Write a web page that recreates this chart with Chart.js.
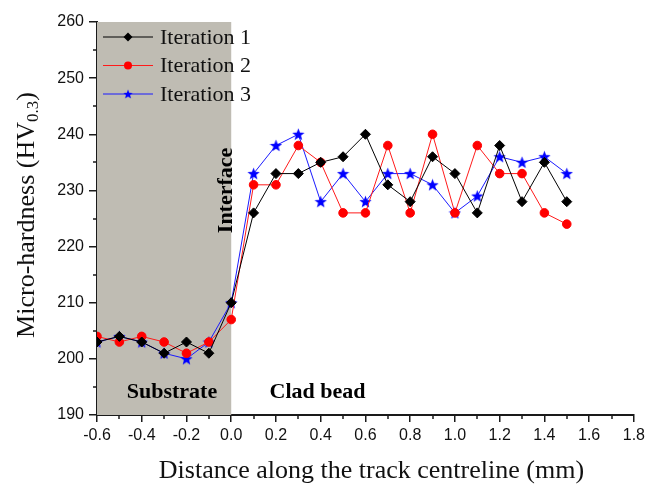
<!DOCTYPE html>
<html>
<head>
<meta charset="utf-8">
<script src="https://cdn.jsdelivr.net/npm/chart.js@4"></script>
<style>
  html, body { margin: 0; padding: 0; background: #fff; }
  #chart { display: block; }
</style>
</head>
<body>
<canvas id="chart" width="649" height="486"></canvas>
<script>
// distances (mm) along the track centreline
const distances = [-0.6, -0.5, -0.4, -0.3, -0.2, -0.1, 0.0, 0.1, 0.2, 0.3, 0.4, 0.5, 0.6, 0.7, 0.8, 0.9, 1.0, 1.1, 1.2, 1.3, 1.4, 1.5];

const iteration1 = [203, 204, 203, 201, 203, 201, 210, 226, 233, 233, 235, 236, 240, 231, 228, 236, 233, 226, 238, 228, 235, 228];
const iteration2 = [204, 203, 204, 203, 201, 203, 207, 231, 231, 238, 235, 226, 226, 238, 226, 240, 226, 238, 233, 233, 226, 224];
const iteration3 = [203, 204, 203, 201, 200, 203, 210, 233, 238, 240, 228, 233, 228, 233, 233, 231, 226, 229, 236, 235, 236, 233];

const seriesNames = ["Iteration 1", "Iteration 2", "Iteration 3"];
const substrateRange = [-0.6, 0.0];
const xTicks = [-0.6, -0.4, -0.2, 0.0, 0.2, 0.4, 0.6, 0.8, 1.0, 1.2, 1.4, 1.6, 1.8];
const yTicks = [190, 200, 210, 220, 230, 240, 250, 260];

const shadeColor = "rgb(191,188,179)";
const axisColor = "#1a1a1a";
const serif = "'Liberation Serif', 'Times New Roman', serif";
const sans = "'Liberation Sans', Arial, sans-serif";

// filled five-point star for iteration 3
function makeStar(size, color) {
  const c = document.createElement("canvas");
  c.width = size;
  c.height = size;
  const g = c.getContext("2d");
  const cx = size / 2, cy = size / 2 + 0.5;
  const outer = size / 2, inner = outer * 0.42;
  g.beginPath();
  for (let i = 0; i < 10; i++) {
    const r = i % 2 === 0 ? outer : inner;
    const a = -Math.PI / 2 + i * Math.PI / 5;
    const px = cx + r * Math.cos(a), py = cy + r * Math.sin(a);
    if (i === 0) g.moveTo(px, py); else g.lineTo(px, py);
  }
  g.closePath();
  g.fillStyle = color;
  g.fill();
  return c;
}
const starImg = makeStar(13, "#0000ff");

function toPoints(values) {
  return values.map((v, i) => ({ x: distances[i], y: v }));
}

const shadePlugin = {
  id: "shade",
  beforeDatasetsDraw(chart) {
    const { ctx, chartArea, scales } = chart;
    const x0 = scales.x.getPixelForValue(substrateRange[0]);
    const x1 = scales.x.getPixelForValue(substrateRange[1]);
    ctx.save();
    ctx.fillStyle = shadeColor;
    ctx.fillRect(x0, chartArea.top, x1 - x0, chartArea.bottom - chartArea.top);
    ctx.restore();
  }
};

const decorPlugin = {
  id: "decor",
  afterDraw(chart) {
    const { ctx, chartArea, scales } = chart;
    const xs = scales.x, ys = scales.y;
    ctx.save();
    // minor ticks
    ctx.strokeStyle = axisColor;
    ctx.lineWidth = 1.5;
    ctx.beginPath();
    for (let i = 0; i < xTicks.length - 1; i++) {
      const px = Math.round(xs.getPixelForValue((xTicks[i] + xTicks[i + 1]) / 2));
      ctx.moveTo(px, chartArea.bottom);
      ctx.lineTo(px, chartArea.bottom + 4);
    }
    for (let i = 0; i < yTicks.length - 1; i++) {
      const py = Math.round(ys.getPixelForValue((yTicks[i] + yTicks[i + 1]) / 2));
      ctx.moveTo(chartArea.left, py);
      ctx.lineTo(chartArea.left - 4, py);
    }
    ctx.stroke();

    // region labels
    ctx.fillStyle = "#000";
    ctx.font = "bold 22px " + serif;
    ctx.textAlign = "center";
    ctx.textBaseline = "middle";
    ctx.fillText("Substrate", xs.getPixelForValue(-0.265), ys.getPixelForValue(194.1));
    ctx.fillText("Clad bead", xs.getPixelForValue(0.386), ys.getPixelForValue(194.1));
    ctx.save();
    ctx.translate(xs.getPixelForValue(-0.02), ys.getPixelForValue(230));
    ctx.rotate(-Math.PI / 2);
    ctx.fillText("Interface", 0, 0);
    ctx.restore();

    // legend
    chart.data.datasets.forEach((ds, i) => {
      const y = 37 + i * 28.5;
      ctx.strokeStyle = ds.borderColor;
      ctx.lineWidth = 1;
      ctx.beginPath();
      ctx.moveTo(103, y);
      ctx.lineTo(153, y);
      ctx.stroke();
      const mx = 128;
      ctx.fillStyle = ds.pointBackgroundColor;
      if (ds.pointStyle === "rectRot") {
        ctx.beginPath();
        ctx.moveTo(mx, y - 4.5); ctx.lineTo(mx + 4.5, y); ctx.lineTo(mx, y + 4.5); ctx.lineTo(mx - 4.5, y);
        ctx.closePath();
        ctx.fill();
      } else if (ds.pointStyle === "circle") {
        ctx.beginPath();
        ctx.arc(mx, y, 4, 0, Math.PI * 2);
        ctx.fill();
      } else {
        ctx.drawImage(ds.pointStyle, mx - 5, y - 5, 10, 10);
      }
      ctx.fillStyle = "#111";
      ctx.font = "22px " + serif;
      ctx.textAlign = "left";
      ctx.fillText(ds.label, 160, y + 1);
    });

    // axis titles
    ctx.fillStyle = "#111";
    ctx.font = "26px " + serif;
    ctx.textAlign = "center";
    ctx.textBaseline = "middle";
    ctx.fillText("Distance along the track centreline (mm)", (chartArea.left + chartArea.right) / 2 + 6, 471);

    ctx.save();
    ctx.translate(27, 215);
    ctx.rotate(-Math.PI / 2);
    const main = "Micro-hardness (HV";
    const sub = "0.3";
    const end = ")";
    ctx.font = "26px " + serif;
    const wMain = ctx.measureText(main).width;
    const wEnd = ctx.measureText(end).width;
    ctx.font = "17px " + serif;
    const wSub = ctx.measureText(sub).width;
    const total = wMain + wSub + wEnd;
    let x = -total / 2;
    ctx.textAlign = "left";
    ctx.font = "26px " + serif;
    ctx.fillText(main, x, 0);
    x += wMain;
    ctx.font = "17px " + serif;
    ctx.fillText(sub, x, 7);
    x += wSub;
    ctx.font = "26px " + serif;
    ctx.fillText(end, x, 0);
    ctx.restore();
    ctx.restore();
  }
};

new Chart(document.getElementById("chart"), {
  type: "line",
  data: {
    datasets: [
      {
        label: seriesNames[0],
        data: toPoints(iteration1),
        borderColor: "#000000",
        backgroundColor: "#000000",
        pointBackgroundColor: "#000000",
        pointBorderColor: "#000000",
        pointStyle: "rectRot",
        pointRadius: 5,
        borderWidth: 1
      },
      {
        label: seriesNames[1],
        data: toPoints(iteration2),
        borderColor: "#ff1a1a",
        backgroundColor: "#ff0000",
        pointBackgroundColor: "#ff0000",
        pointBorderColor: "#ff0000",
        pointStyle: "circle",
        pointRadius: 4.3,
        borderWidth: 1
      },
      {
        label: seriesNames[2],
        data: toPoints(iteration3),
        borderColor: "#1a1aff",
        backgroundColor: "#0000ff",
        pointBackgroundColor: "#0000ff",
        pointBorderColor: "#0000ff",
        pointStyle: starImg,
        pointRadius: 6.5,
        borderWidth: 1
      }
    ]
  },
  options: {
    responsive: false,
    animation: false,
    devicePixelRatio: 1,
    layout: { padding: { top: 22, right: 14, left: 0, bottom: 0 } },
    plugins: {
      legend: { display: false },
      tooltip: { enabled: false }
    },
    elements: { line: { tension: 0 } },
    scales: {
      x: {
        type: "linear",
        min: -0.6,
        max: 1.8,
        afterBuildTicks(scale) {
          scale.ticks = xTicks.map(v => ({ value: v }));
        },
        afterFit(scale) { scale.height = 71; },
        ticks: {
          callback: v => v.toFixed(1),
          color: "#111",
          font: { family: sans, size: 16 },
          padding: 4,
          maxRotation: 0,
          autoSkip: false
        },
        grid: { drawOnChartArea: false, drawTicks: true, tickLength: 7, color: axisColor, lineWidth: 1.5 },
        border: { display: true, color: axisColor, width: 2 }
      },
      y: {
        type: "linear",
        min: 190,
        max: 260,
        afterBuildTicks(scale) {
          scale.ticks = yTicks.map(v => ({ value: v }));
        },
        afterFit(scale) { scale.width = 97; },
        ticks: {
          color: "#111",
          font: { family: sans, size: 16 },
          padding: 5
        },
        grid: { drawOnChartArea: false, drawTicks: true, tickLength: 8, color: axisColor, lineWidth: 1.5 },
        border: { display: true, color: axisColor, width: 2 }
      }
    }
  },
  plugins: [shadePlugin, decorPlugin]
});
</script>
</body>
</html>
